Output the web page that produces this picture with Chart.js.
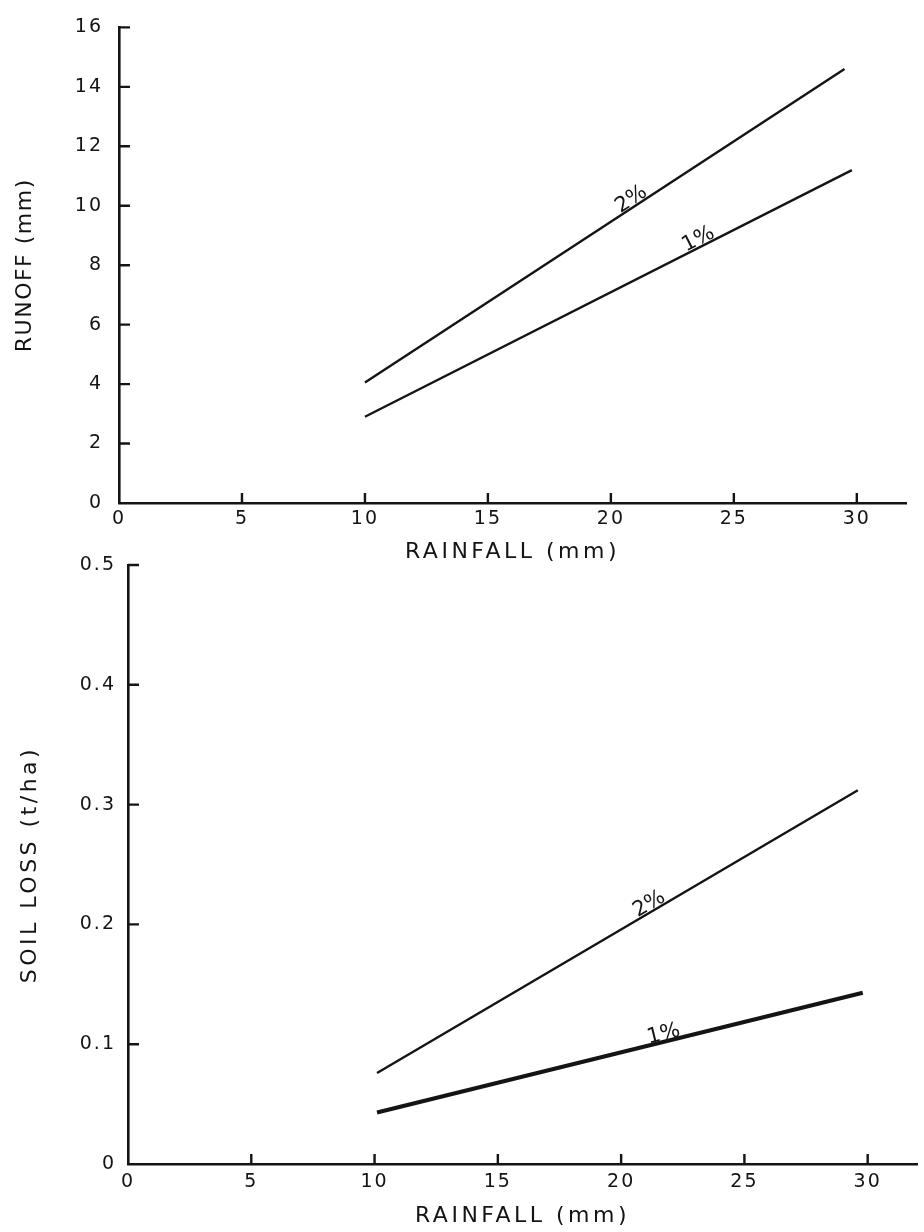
<!DOCTYPE html>
<html>
<head>
<meta charset="utf-8">
<script src="https://cdn.jsdelivr.net/npm/chart.js@4.4.1/dist/chart.umd.min.js"></script>
<style>
  html, body { margin: 0; padding: 0; background: #ffffff; }
  body { width: 924px; height: 1232px; position: relative; overflow: hidden; }
  canvas { position: absolute; left: 0; }
  #top { top: 0; }
  #bottom { top: 540px; }
</style>
</head>
<body>
<canvas id="top" width="924" height="600"></canvas>
<canvas id="bottom" width="924" height="692"></canvas>
<script>
// ---------------- data ----------------
const rainfall2pctTop = [10, 29.5];
const runoff2pct      = [4.05, 14.6];
const rainfall1pctTop = [10, 29.8];
const runoff1pct      = [2.9, 11.2];

const rainfall2pctBot = [10.1, 29.6];
const soilLoss2pct    = [0.076, 0.312];
const rainfall1pctBot = [10.1, 29.8];
const soilLoss1pct    = [0.043, 0.143];

const seriesNames = ['2%', '1%'];
const xTitle = 'RAINFALL (mm)';
const yTitleTop = 'RUNOFF (mm)';
const yTitleBot = 'SOIL LOSS (t/ha)';

const INK = '#141414';
const FONT = "'DejaVu Sans', sans-serif";

// ------------- letter spacing for scale titles -------------
const origDrawTitle = Chart.Scale.prototype.drawTitle;
Chart.Scale.prototype.drawTitle = function () {
  const c = this.ctx;
  const prev = c.letterSpacing;
  const sp = (this.options.title && this.options.title.spacing) || '3px';
  c.letterSpacing = sp;
  origDrawTitle.call(this);
  c.letterSpacing = prev;
};

const toPts = (xs, ys) => xs.map((x, i) => ({ x: x, y: ys[i] }));

// inward tick marks + spacing + line labels
const decor = {
  id: 'decor',
  beforeDraw(chart) {
    chart.ctx.letterSpacing = '2px';
  },
  afterDraw(chart, args, opts) {
    const ctx = chart.ctx;
    const xs = chart.scales.x, ys = chart.scales.y;
    const area = chart.chartArea;
    ctx.save();
    ctx.letterSpacing = '0px';
    ctx.strokeStyle = INK;
    ctx.lineWidth = 2.4;
    ctx.beginPath();
    ys.ticks.forEach(t => {
      if (t.value === 0) return;
      const py = ys.getPixelForValue(t.value);
      ctx.moveTo(area.left, py);
      ctx.lineTo(area.left + 11, py);
    });
    xs.ticks.forEach(t => {
      if (t.value === 0) return;
      const px = xs.getPixelForValue(t.value);
      ctx.moveTo(px, area.bottom);
      ctx.lineTo(px, area.bottom - 10);
    });
    ctx.stroke();

    // labels on lines
    ctx.fillStyle = INK;
    ctx.font = "21px " + FONT;
    ctx.textAlign = 'center';
    ctx.textBaseline = 'alphabetic';
    chart.data.datasets.forEach((ds, i) => {
      const at = opts.labelAt[i];
      const d = ds.data;
      const x0 = xs.getPixelForValue(d[0].x), y0 = ys.getPixelForValue(d[0].y);
      const x1 = xs.getPixelForValue(d[1].x), y1 = ys.getPixelForValue(d[1].y);
      const ang = Math.atan2(y1 - y0, x1 - x0);
      const px = xs.getPixelForValue(at);
      const t = (px - x0) / (x1 - x0);
      const py = y0 + t * (y1 - y0);
      ctx.save();
      ctx.translate(px, py);
      ctx.rotate(ang);
      ctx.letterSpacing = '0px';
      ctx.fillText(ds.label, 0, -2);
      ctx.restore();
    });
    ctx.restore();
  }
};

function makeChart(id, cfg) {
  return new Chart(document.getElementById(id), {
    type: 'line',
    data: {
      datasets: [
        { label: seriesNames[0], data: cfg.s2, borderColor: INK, borderWidth: cfg.w2, pointRadius: 0, tension: 0, fill: false },
        { label: seriesNames[1], data: cfg.s1, borderColor: INK, borderWidth: cfg.w1, pointRadius: 0, tension: 0, fill: false }
      ]
    },
    options: {
      responsive: false,
      animation: false,
      layout: { padding: cfg.padding },
      plugins: {
        legend: { display: false },
        tooltip: { enabled: false },
        decor: { labelAt: cfg.labelAt }
      },
      scales: {
        x: {
          type: 'linear',
          min: 0, max: 32,
          afterBuildTicks: s => { s.ticks = s.ticks.filter(t => t.value % 5 === 0); },
          afterFit: s => { s.height = cfg.xHeight; },
          grid: { display: true, drawOnChartArea: false, drawTicks: false },
          border: { display: true, color: INK, width: 2.6 },
          ticks: { stepSize: 5, color: INK, padding: cfg.xTickPad, font: { family: FONT, size: 19 }, maxRotation: 0, autoSkip: false },
          title: { display: true, text: xTitle, color: INK, spacing: '3.5px', font: { family: FONT, size: 22 }, padding: { top: 0, bottom: cfg.xTitlePad } }
        },
        y: {
          type: 'linear',
          min: 0, max: cfg.yMax,
          afterFit: s => { s.width = cfg.yWidth; },
          grid: { display: true, drawOnChartArea: false, drawTicks: false },
          border: { display: true, color: INK, width: 2.6 },
          ticks: { stepSize: cfg.yStep, color: INK, padding: cfg.yTickPad, font: { family: FONT, size: 19 }, autoSkip: false, callback: cfg.yFmt },
          title: { display: true, text: cfg.yTitle, color: INK, spacing: cfg.yTitleSpacing, font: { family: FONT, size: 22 }, padding: { top: cfg.yTitlePad, bottom: 0 } }
        }
      }
    },
    plugins: [decor]
  });
}

makeChart('top', {
  s2: toPts(rainfall2pctTop, runoff2pct),
  s1: toPts(rainfall1pctTop, runoff1pct),
  w2: 2.4, w1: 2.4,
  padding: { left: 0, top: 20, right: 18, bottom: 27 },
  xHeight: 70, yWidth: 119,
  xTickPad: 5, xTitlePad: 8,
  yMax: 16, yStep: 2, yTickPad: 16,
  yFmt: v => String(v),
  yTitle: yTitleTop, yTitleSpacing: '1.5px', yTitlePad: 12,
  labelAt: [21.0, 23.7]
});

makeChart('bottom', {
  s2: toPts(rainfall2pctBot, soilLoss2pct),
  s1: toPts(rainfall1pctBot, soilLoss1pct),
  w2: 2.4, w1: 4,
  padding: { left: 0, top: 25, right: 7, bottom: 0 },
  xHeight: 68, yWidth: 128,
  xTickPad: 7, xTitlePad: 3,
  yMax: 0.5, yStep: 0.1, yTickPad: 12,
  yFmt: v => (Math.abs(v) < 1e-9 ? '0' : v.toFixed(1)),
  yTitle: yTitleBot, yTitleSpacing: '3.5px', yTitlePad: 17,
  labelAt: [21.3, 21.8]
});
</script>
</body>
</html>
